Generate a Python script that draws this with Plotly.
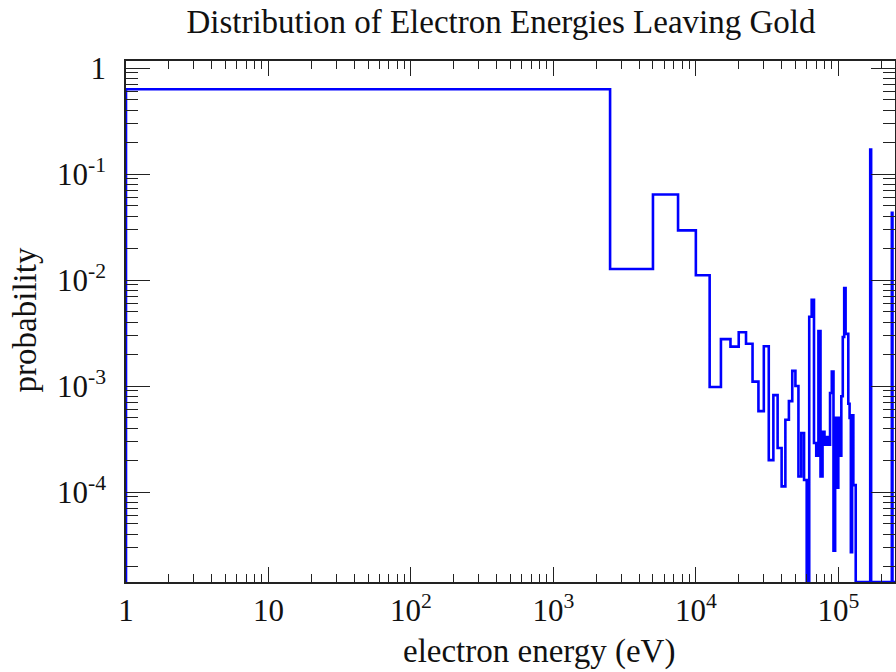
import numpy as np
import plotly.graph_objects as go

# ---- data ----
BIN_WIDTH_EV = 2500          # histogram bin width in eV
N_BINS = 100                 # 0 .. 250 keV
probability = [
    0.63, 0.0127, 0.064, 0.0294, 0.0111, 0.00098, 0.00277, 0.00235, 0.00321, 0.0025,
    0.0011, 0.00058, 0.00237, 0.0002, 0.00082, 0.00026, 0.000113, 0.00048, 0.00072, 0.00139,
    0.0010, 0.00014, 0.00036, 0.00013, 0.0, 0.0045, 0.0065, 0.00029, 0.00022, 0.0033,
    0.00014, 0.00037, 0.00028, 0.00033, 0.00028, 0.00086, 0.00137, 0.000028, 0.0005, 0.00011,
    0.0005, 0.00022, 0.0008, 0.0029, 0.0084, 0.0031, 0.0031, 0.00068, 0.0005, 0.000027,
    0.00053, 0.000116, 0.000116, 0.0, 0.0, 0.0, 0.0, 0.0, 0.0, 0.0,
    0.0, 0.0, 0.0, 0.0, 0.0, 0.0, 0.0, 0.17, 0.0, 0.0,
    0.0, 0.0, 0.0, 0.0, 0.0, 0.0, 0.0, 0.0, 0.0, 0.0,
    0.0, 0.0, 0.0, 0.0, 0.0, 0.0, 0.0, 0.0, 0.0, 0.0,
    0.0, 0.0, 0.0, 0.0, 0.0, 0.043, 0.0, 0.0, 0.0, 0.0,
]
x_tick_vals = [1, 10, 100, 1000, 10000, 100000]
x_tick_text = ["1", "10", "10<sup>2</sup>", "10<sup>3</sup>", "10<sup>4</sup>", "10<sup>5</sup>"]
y_tick_vals = [1, 0.1, 0.01, 0.001, 0.0001]
y_tick_text = ["1", "10<sup>-1</sup>", "10<sup>-2</sup>", "10<sup>-3</sup>", "10<sup>-4</sup>"]

# ---- axis ranges (log10) ----
X_MIN, X_MAX = 0.0, np.log10(BIN_WIDTH_EV * N_BINS)
Y_MIN, Y_MAX = -4.849, 0.066

edges = np.arange(N_BINS + 1) * BIN_WIDTH_EV
floor = 10 ** Y_MIN                       # empty bins sit on the frame bottom
vals = [v if v > 0 else floor for v in probability]

x_pts = [max(edges[0], 10 ** X_MIN)] + [max(e, 10 ** X_MIN) for e in edges]
y_pts = [floor] + vals + [floor]


def minor_vals(lo, hi):
    out = []
    for d in range(int(np.floor(lo)) - 1, int(np.ceil(hi)) + 1):
        for k in range(2, 10):
            v = k * 10.0 ** d
            if 10 ** lo < v < 10 ** hi:
                out.append(v)
    return out


FONT = "Liberation Serif"
TXT = "#111111"
FRAME = "#222222"

fig = go.Figure()
fig.add_trace(go.Scatter(
    x=x_pts, y=y_pts, mode="lines", line_shape="hv",
    line=dict(color="#0000ff", width=2.6), showlegend=False, hoverinfo="skip",
))

axis_common = dict(
    showline=True, linecolor=FRAME, linewidth=1.6, mirror="ticks",
    ticks="inside", tickcolor=FRAME, tickwidth=1.3,
    showgrid=False, zeroline=False, automargin=False,
    tickfont=dict(family=FONT, size=31, color=TXT),
)
fig.update_xaxes(
    type="log", range=[X_MIN, X_MAX], tickmode="array",
    tickvals=x_tick_vals, ticktext=x_tick_text, ticklen=15,
    ticklabelstandoff=0,
    minor=dict(tickmode="array", tickvals=minor_vals(X_MIN, X_MAX),
               ticks="inside", ticklen=8, tickcolor=FRAME, tickwidth=1.2, showgrid=False),
    **axis_common,
)
fig.update_yaxes(
    type="log", range=[Y_MIN, Y_MAX], tickmode="array",
    tickvals=y_tick_vals, ticktext=y_tick_text, ticklen=24,
    ticklabelstandoff=12,
    minor=dict(tickmode="array", tickvals=minor_vals(Y_MIN, Y_MAX),
               ticks="inside", ticklen=12, tickcolor=FRAME, tickwidth=1.2, showgrid=False),
    **axis_common,
)

fig.update_layout(
    width=896, height=672,
    margin=dict(l=126, r=1, t=61, b=90, autoexpand=False),
    plot_bgcolor="white", paper_bgcolor="white",
    title=dict(text="Distribution of Electron Energies Leaving Gold",
               font=dict(family=FONT, size=33, color=TXT),
               xref="paper", x=0.4876, xanchor="center",
               yref="container", y=0.9688, yanchor="middle"),
    annotations=[
        dict(text="electron energy (eV)", xref="paper", yref="paper",
             x=0.537, y=-0.134, xanchor="center", yanchor="middle",
             showarrow=False, font=dict(family=FONT, size=33, color=TXT)),
        dict(text="probability", xref="paper", yref="paper",
             x=-0.132, y=0.503, xanchor="center", yanchor="middle", textangle=-90,
             showarrow=False, font=dict(family=FONT, size=33, color=TXT)),
    ],
)

# remove the browser's default body margin so the figure fills the window exactly
fig.write_html(
    "out.html",
    config={"displayModeBar": False},
    post_script="document.body.style.margin='0';document.body.style.overflow='hidden';",
)
